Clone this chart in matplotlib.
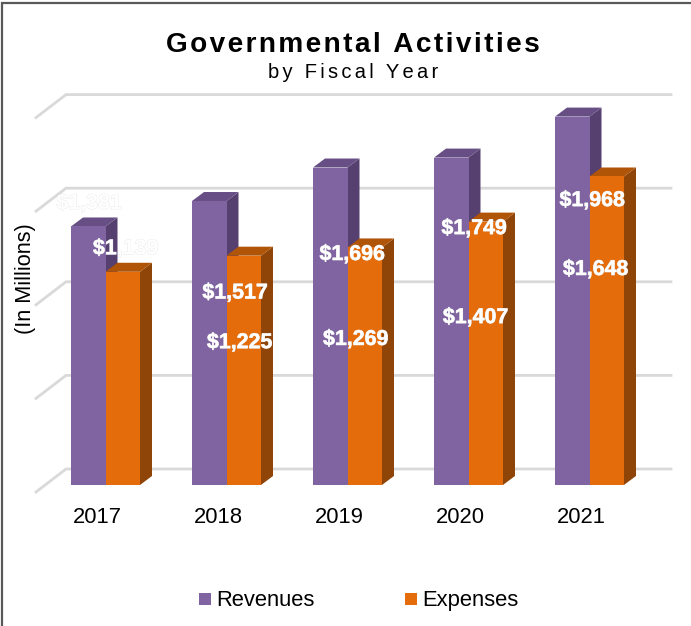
import matplotlib
matplotlib.use("Agg")
import matplotlib.pyplot as plt
import matplotlib.patheffects as pe
from matplotlib.lines import Line2D
from matplotlib.patches import Polygon, Rectangle

years = ["2017", "2018", "2019", "2020", "2021"]
revenues = [1381, 1517, 1696, 1749, 1968]
expenses = [1139, 1225, 1269, 1407, 1648]
grid_values = [0, 500, 1000, 1500, 2000]

# label placement in the source is irregular, offsets in pixels from bar top
rev_offsets = [(1, 23), (26, -92), (22, -87), (23, -71), (20, -84)]
exp_offsets = [(3, 23), (-4, -87), (-9, -92), (-10, -96), (-11, -93)]

W, H = 691, 626
PX_X = 121.0      # pixels per category
PX_Y = 0.1872     # pixels per dollar million
BAR_W = 34.5 / PX_X
BAR_DX, BAR_DY = 12 / PX_X, 9 / PX_Y
WALL_DX, WALL_DY = 30 / PX_X, 23 / PX_Y

PURPLE = ("#8064A2", "#674F85", "#56406F")
ORANGE = ("#E46C0A", "#B05408", "#8F4507")

plt.rcParams["font.family"] = ["Liberation Sans", "DejaVu Sans"]

fig = plt.figure(figsize=(W / 100, H / 100), dpi=100, facecolor="white")
# axes box: category 0 centre sits at the revenue/expense join, x=105.5px
left_px, right_px, top_px, base_px = 36, 671, 92, 485
ax = fig.add_axes([left_px / W, 1 - base_px / H, (right_px - left_px) / W, (base_px - top_px) / H])
ax.set_xlim((left_px - 105.5) / PX_X, (right_px - 105.5) / PX_X)
ax.set_ylim(0, (base_px - top_px) / PX_Y)
ax.patch.set_visible(False)
for s in ax.spines.values():
    s.set_visible(False)
ax.set_yticks([])
ax.set_xticks([i - 8.5 / PX_X for i in range(len(years))])
ax.set_xticklabels(years, fontsize=15.8)
ax.tick_params(axis="x", length=0, pad=16)
fig.text(26 / W, 1 - 279 / H, "(In Millions)", rotation=90, ha="center", va="center", fontsize=15.6)

# gridlines run along the floor-side wall
x0 = ax.get_xlim()[0]
x1 = ax.get_xlim()[1]
for v in grid_values:
    yf = v - 7 / PX_Y
    ax.plot([x0, x0 + WALL_DX, x1], [yf, yf + WALL_DY, yf + WALL_DY],
            color="#D9D9D9", lw=2.0, clip_on=False, zorder=1, solid_joinstyle="miter")


def bar3d(x, v, colors, z):
    front, top, side = colors
    ax.add_patch(Polygon([(x + BAR_W, 0), (x + BAR_W + BAR_DX, BAR_DY),
                          (x + BAR_W + BAR_DX, v + BAR_DY), (x + BAR_W, v)],
                         fc=side, ec="none", zorder=z, clip_on=False))
    ax.add_patch(Polygon([(x, v), (x + BAR_DX, v + BAR_DY),
                          (x + BAR_W + BAR_DX, v + BAR_DY), (x + BAR_W, v)],
                         fc=top, ec="none", zorder=z, clip_on=False))
    ax.add_patch(Rectangle((x, 0), BAR_W, v, fc=front, ec="none", zorder=z, clip_on=False))


for i in range(len(years)):
    bar3d(i - BAR_W, revenues[i], PURPLE, 2 + i * 0.1)
    bar3d(i, expenses[i], ORANGE, 2.05 + i * 0.1)

halo = [pe.withStroke(linewidth=0.5, foreground="#E4E4E4")]
for i in range(len(years)):
    for val, off, xc in ((revenues[i], rev_offsets[i], i - BAR_W / 2),
                         (expenses[i], exp_offsets[i], i + BAR_W / 2)):
        ax.annotate(f"${val:,}", xy=(xc, val), xytext=off, textcoords="offset pixels",
                    ha="center", va="center", color="white", fontsize=15.4,
                    fontweight="bold", zorder=5, annotation_clip=False, path_effects=halo)

# title has wide tracking in the source, hair spaces get close to it
fig.text(353 / W, 1 - 52 / H, "\u200a".join("Governmental Activities"), ha="center", va="baseline",
         fontsize=20.2, fontweight="bold", color="black")
fig.text(353 / W, 1 - 78 / H, "\u200a\u200a".join("by Fiscal Year"), ha="center", va="baseline",
         fontsize=14.5, color="black")

# legend
fig.patches.append(Rectangle((199 / W, 1 - 605 / H), 12 / W, 12 / H, transform=fig.transFigure, fc=PURPLE[0], ec="none"))
fig.patches.append(Rectangle((405 / W, 1 - 605 / H), 12 / W, 12 / H, transform=fig.transFigure, fc=ORANGE[0], ec="none"))
fig.text(216 / W, 1 - 606 / H, "Revenues", ha="left", va="baseline", fontsize=15.8)
fig.text(422 / W, 1 - 606 / H, "Expenses", ha="left", va="baseline", fontsize=15.8)

# chart frame, only left and top show in the source
fig.add_artist(Line2D([1.5 / W, 1.5 / W, 1], [0, 1 - 2.5 / H, 1 - 2.5 / H], color="#595959", lw=1.6,
                      transform=fig.transFigure, solid_joinstyle="miter"))

fig.savefig("out.png", dpi=100)
